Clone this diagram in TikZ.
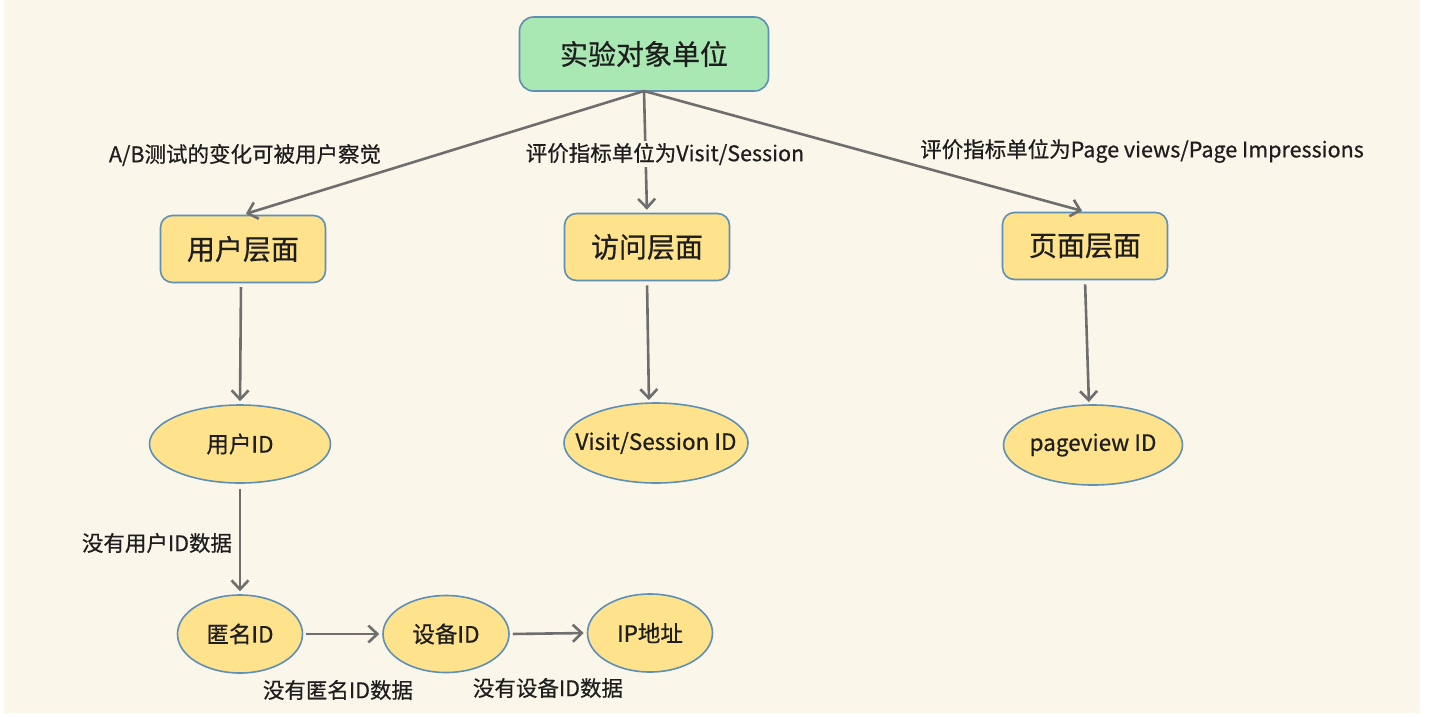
\documentclass[tikz,border=0pt]{standalone}
\usepackage{fontspec}
\setmainfont{Noto Sans CJK SC}[BoldFont={Noto Sans CJK SC},BoldFeatures={FakeBold=0.6}]
\usetikzlibrary{arrows.meta,shapes.geometric}
\definecolor{bgc}{HTML}{FAF6EA}
\definecolor{grn}{HTML}{A9E8B3}
\definecolor{yel}{HTML}{FFE28C}
\definecolor{bdr}{HTML}{5E8FB5}
\definecolor{arr}{HTML}{6E6E6E}
\definecolor{txt}{HTML}{1E1E1E}
\tikzset{
  x=1pt,y=-1pt,
  topbox/.style={draw=bdr,line width=1.6pt,fill=grn,rounded corners=14pt,minimum width=249pt,minimum height=74pt,font=\fontsize{28}{30}\selectfont\bfseries,text=txt},
  lvlbox/.style={draw=bdr,line width=1.6pt,fill=yel,rounded corners=12pt,minimum width=165pt,minimum height=67pt,font=\fontsize{28}{30}\selectfont\bfseries,text=txt},
  idell/.style={ellipse,draw=bdr,line width=1.6pt,fill=yel,inner sep=0pt},
  idtxt/.style={font=\fontsize{22.5}{24}\selectfont\bfseries,text=txt,inner sep=0pt},
  conn/.style={draw=arr,line width=2.6pt,-{Straight Barb[length=9pt,width=17pt,line width=2.6pt]},shorten >=3pt},
  lbl/.style={font=\fontsize{21.5}{24}\selectfont\bfseries,text=txt,inner sep=2pt,fill=bgc}
}
\begin{document}
\begin{tikzpicture}
\useasboundingbox (0,0) rectangle (1430,716);
\fill[white] (0,0) rectangle (1430,716);
\fill[bgc] (4,0) rectangle (1420,713);
\node[topbox] (top) at (644,54) {实验对象单位};
\node[lvlbox] (user) at (243,249) {用户层面};
\node[lvlbox] (visit) at (647,247) {访问层面};
\node[lvlbox] (page) at (1085,246) {页面层面};
\node[idell,minimum width=181pt,minimum height=78pt] (uid) at (240,444) {};
\node[idell,minimum width=184pt,minimum height=80pt] (vid) at (656,443) {};
\node[idell,minimum width=179pt,minimum height=80pt] (pid) at (1093,445) {};
\node[idell,minimum width=125pt,minimum height=78pt] (anon) at (240,634) {};
\node[idell,minimum width=126pt,minimum height=77pt] (dev) at (446,634) {};
\node[idell,minimum width=125pt,minimum height=78pt] (ip) at (650,633) {};
\node[idtxt] (uidt) at (uid.center) {用户ID};
\node[idtxt] (vidt) at (vid.center) {Visit/Session ID};
\node[idtxt] (pidt) at (pid.center) {pageview ID};
\node[idtxt] (anont) at (anon.center) {匿名ID};
\node[idtxt] (devt) at (dev.center) {设备ID};
\node[idtxt] (ipt) at (ip.center) {IP地址};
\coordinate (tb) at (644,91);
\draw[conn] (tb) -- (user.north);
\draw[conn] (tb) -- (visit.north);
\draw[conn] (tb) -- (page.north);
\draw[conn,shorten <=4pt] (241,283) -- (uid.north);
\draw[conn,shorten <=4pt] (visit.south) -- (649,403);
\draw[conn,shorten <=4pt] (page.south) -- (1089,405);
\draw[conn,shorten <=5pt] (uid.south) -- (anon.north);
\draw[conn,shorten <=3pt] (anon.east) -- (dev.west);
\draw[conn,shorten <=3pt] (dev.east) -- (ip.west);
\node[lbl] (l1) at (245,155) {A/B测试的变化可被用户察觉};
\node[lbl] (l2) at (665,154) {评价指标单位为Visit/Session};
\node[lbl] (l3) at (1142,151) {评价指标单位为Page views/Page Impressions};
\node[lbl] (l4) at (157,543) {没有用户ID数据};
\node[lbl] (l5) at (338,690) {没有匿名ID数据};
\node[lbl] (l6) at (548,688) {没有设备ID数据};
\end{tikzpicture}
\end{document}
